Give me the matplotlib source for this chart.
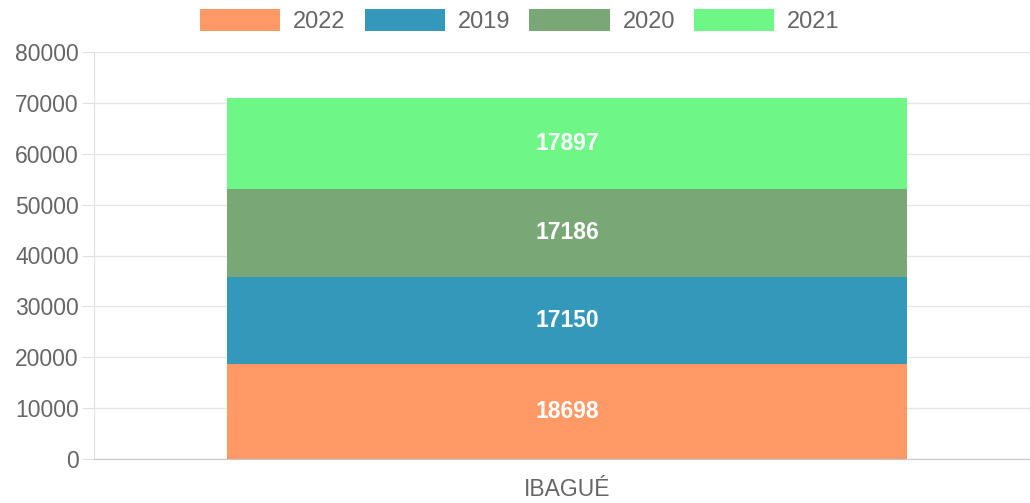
import matplotlib
matplotlib.use("Agg")
import matplotlib.pyplot as plt
import numpy as np

# data
categories = ["IBAGUÉ"]
series_names = ["2022", "2019", "2020", "2021"]
values_2022 = [18698]
values_2019 = [17150]
values_2020 = [17186]
values_2021 = [17897]
series_values = [values_2022, values_2019, values_2020, values_2021]
colors = ["#ff9966", "#3498ba", "#7aa776", "#6ef787"]
y_ticks = [0, 10000, 20000, 30000, 40000, 50000, 60000, 70000, 80000]

plt.rcParams["font.family"] = ["Liberation Sans", "DejaVu Sans"]

fig = plt.figure(figsize=(10.3, 5.03), dpi=100)
ax = fig.add_axes([94 / 1030, 1 - 459 / 503, 936 / 1030, 407 / 503])

x = np.arange(len(categories))
bottom = np.zeros(len(categories))
for name, vals, col in zip(series_names, series_values, colors):
    bars = ax.bar(x, vals, width=0.719, bottom=bottom, color=col, label=name, zorder=3)
    for rect, v in zip(bars, vals):
        ax.text(rect.get_x() + rect.get_width() / 2, rect.get_y() + rect.get_height() / 2,
                str(v), ha="center", va="center", color="white",
                fontsize=16.5, fontweight="bold", zorder=4)
    bottom += np.array(vals)

ax.set_xlim(-0.5, 0.4895)
ax.set_ylim(0, 80000)
ax.set_yticks(y_ticks)
ax.set_xticks(x)
ax.set_xticklabels(categories)

ax.grid(axis="y", color="#e6e6e6", linewidth=1, zorder=0)
ax.tick_params(axis="y", colors="#e0e0e0", labelcolor="#666666", labelsize=16.5, length=9, pad=2)
ax.tick_params(axis="x", length=0, labelcolor="#666666", labelsize=16.5, pad=14)
for s in ["top", "right"]:
    ax.spines[s].set_visible(False)
ax.spines["left"].set_color("#e0e0e0")
ax.spines["bottom"].set_color("#c8c8c8")

ax.legend(loc="upper center", bbox_to_anchor=(0.455, 1 + 52 / 407),
          ncol=4, frameon=False, fontsize=17, labelcolor="#666666",
          handlelength=3.4, handleheight=1.05, handletextpad=0.55,
          columnspacing=0.8, borderaxespad=0)

fig.savefig("out.png", dpi=100)
